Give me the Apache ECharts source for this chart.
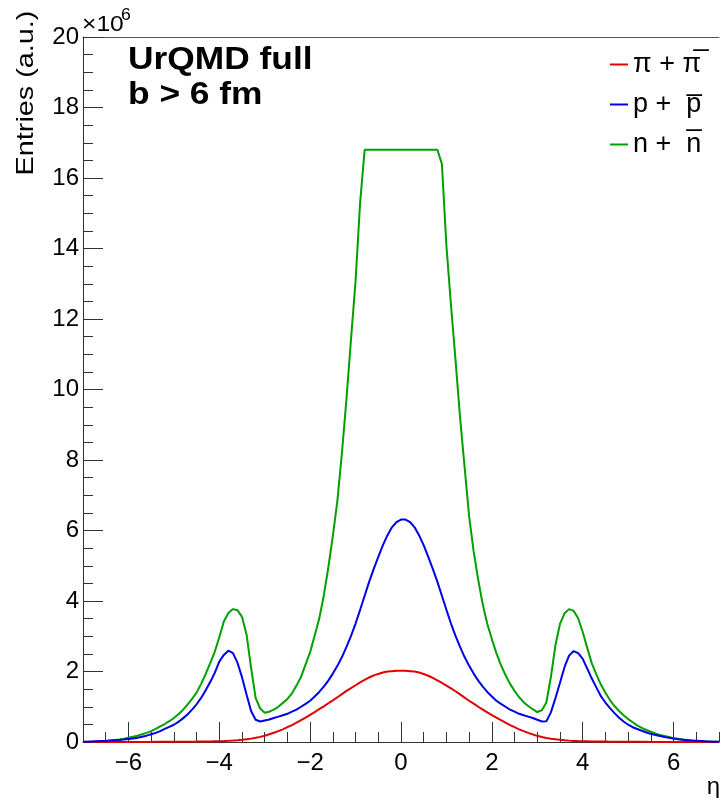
<!DOCTYPE html>
<html>
<head>
<meta charset="utf-8">
<style>
html, body { margin: 0; padding: 0; background: #fff; }
#chart { width: 720px; height: 798px; }
</style>
<script src="https://cdn.jsdelivr.net/npm/echarts@6/dist/echarts.min.js"></script>
</head>
<body>
<div id="chart"></div>
<script>
// bin centres of eta, from -7.0 to 7.0 in steps of 0.1
const eta = Array.from({ length: 141 }, (_, i) => Math.round((-7 + i * 0.1) * 10) / 10);

// values in units of 10^6 entries
const piValues = [
  0, 0, 0, 0, 0, 0, 0.001, 0.001, 0.001, 0.001,
  0.002, 0.002, 0.002, 0.003, 0.003, 0.003, 0.004, 0.004, 0.005, 0.005,
  0.006, 0.007, 0.008, 0.009, 0.010, 0.011, 0.013, 0.015, 0.017, 0.020,
  0.023, 0.027, 0.032, 0.040, 0.050, 0.063, 0.078, 0.096, 0.118, 0.145,
  0.178, 0.218, 0.262, 0.31, 0.36, 0.42, 0.48, 0.55, 0.62, 0.69,
  0.77, 0.85, 0.93, 1.01, 1.10, 1.18, 1.27, 1.36, 1.45, 1.53,
  1.61, 1.69, 1.76, 1.83, 1.89, 1.93, 1.97, 2.00, 2.01, 2.02,
  2.02,
  2.02, 2.01, 2.00, 1.97, 1.93, 1.88, 1.82, 1.75, 1.68, 1.60,
  1.52, 1.44, 1.35, 1.26, 1.17, 1.09, 1.00, 0.92, 0.84, 0.76,
  0.69, 0.62, 0.55, 0.48, 0.42, 0.36, 0.31, 0.26, 0.215, 0.175,
  0.143, 0.116, 0.094, 0.076, 0.061, 0.049, 0.039, 0.031, 0.026, 0.022,
  0.019, 0.016, 0.014, 0.012, 0.011, 0.010, 0.009, 0.008, 0.007, 0.006,
  0.005, 0.005, 0.004, 0.004, 0.003, 0.003, 0.003, 0.002, 0.002, 0.002,
  0.001, 0.001, 0.001, 0.001, 0, 0, 0, 0, 0, 0
];

const protonValues = [
  0.01, 0.01, 0.015, 0.02, 0.025, 0.03, 0.04, 0.05, 0.06, 0.07,
  0.085, 0.10, 0.12, 0.15, 0.18, 0.22, 0.26, 0.31, 0.37, 0.43,
  0.49, 0.57, 0.67, 0.78, 0.92, 1.07, 1.25, 1.47, 1.70, 1.96,
  2.28, 2.47, 2.59, 2.52, 2.25, 1.84, 1.35, 0.88, 0.63, 0.58,
  0.61, 0.64, 0.68, 0.72, 0.76, 0.80, 0.86, 0.92, 1.00, 1.08,
  1.17, 1.29, 1.42, 1.57, 1.74, 1.94, 2.16, 2.41, 2.70, 3.01,
  3.36, 3.75, 4.15, 4.55, 4.91, 5.25, 5.58, 5.86, 6.09, 6.24,
  6.31,
  6.31, 6.24, 6.09, 5.86, 5.58, 5.25, 4.91, 4.55, 4.15, 3.75,
  3.36, 3.01, 2.70, 2.41, 2.16, 1.94, 1.74, 1.57, 1.42, 1.29,
  1.17, 1.08, 1.00, 0.92, 0.86, 0.80, 0.76, 0.72, 0.68, 0.63,
  0.58, 0.59, 0.84, 1.25, 1.68, 2.13, 2.45, 2.58, 2.52, 2.36,
  2.08, 1.80, 1.55, 1.30, 1.12, 0.96, 0.82, 0.69, 0.58, 0.49,
  0.42, 0.37, 0.32, 0.27, 0.23, 0.20, 0.17, 0.14, 0.12, 0.10,
  0.08, 0.065, 0.05, 0.04, 0.035, 0.03, 0.02, 0.015, 0.01, 0.01
];

const neutronValues = [
  0.005, 0.01, 0.01, 0.015, 0.02, 0.03, 0.04, 0.055, 0.07, 0.09,
  0.12, 0.15, 0.18, 0.22, 0.26, 0.31, 0.37, 0.44, 0.51, 0.59,
  0.68, 0.79, 0.91, 1.06, 1.22, 1.40, 1.65, 1.93, 2.24, 2.56,
  2.97, 3.42, 3.66, 3.77, 3.74, 3.55, 3.05, 2.10, 1.25, 0.95,
  0.83, 0.86, 0.92, 1.00, 1.11, 1.22, 1.38, 1.60, 1.85, 2.20,
  2.55, 3.02, 3.50, 4.15, 4.95, 5.85, 6.85, 8.20, 9.74, 11.43,
  13.08, 15.30, 16.80, 16.80, 16.80, 16.80, 16.80, 16.80, 16.80, 16.80,
  16.80,
  16.80, 16.80, 16.80, 16.80, 16.80, 16.80, 16.80, 16.80, 16.40, 14.07,
  12.40, 10.84, 9.21, 7.80, 6.40, 5.40, 4.60, 3.90, 3.35, 2.92,
  2.52, 2.18, 1.90, 1.65, 1.45, 1.27, 1.13, 1.02, 0.93, 0.85,
  0.90, 1.12, 1.85, 2.75, 3.35, 3.65, 3.77, 3.72, 3.51, 3.12,
  2.67, 2.23, 1.92, 1.63, 1.40, 1.19, 1.02, 0.88, 0.76, 0.65,
  0.56, 0.47, 0.40, 0.34, 0.29, 0.24, 0.20, 0.17, 0.14, 0.11,
  0.09, 0.07, 0.055, 0.04, 0.03, 0.02, 0.015, 0.01, 0.01, 0.005
];

const xTickValues = [-6, -4, -2, 0, 2, 4, 6];
const seriesNames = ['π + π\u0305', 'p +  p\u0305', 'n +  n\u0305'];
const seriesColors = ['#e00000', '#0000e6', '#00a000'];

const FONT = '"Liberation Sans", Arial, Helvetica, sans-serif';
const AXIS_COLOR = '#333';

function pairs(values) {
  return eta.map((x, i) => [x, values[i]]);
}
function fmtMinus(v) {
  return v < 0 ? '\u2212' + Math.abs(v) : String(v);
}

const chart = echarts.init(document.getElementById('chart'), null, { renderer: 'canvas' });

chart.setOption({
  animation: false,
  backgroundColor: '#fff',
  grid: { left: 83, right: 1, top: 37, bottom: 56, containLabel: false },
  xAxis: [
    {
      type: 'value', min: -7, max: 7, interval: 0.5, position: 'bottom',
      axisLine: { show: true, onZero: false, lineStyle: { color: AXIS_COLOR, width: 1 } },
      axisTick: { show: true, inside: true, length: 10, lineStyle: { color: AXIS_COLOR, width: 1 } },
      axisLabel: { show: false },
      splitLine: { show: false }
    },
    {
      type: 'value', min: -7, max: 7, position: 'bottom',
      axisLine: { show: false, onZero: false },
      axisTick: { show: true, inside: true, length: 20, customValues: xTickValues, lineStyle: { color: AXIS_COLOR, width: 1 } },
      axisLabel: {
        show: true, customValues: xTickValues, formatter: fmtMinus,
        fontSize: 24, fontFamily: FONT, color: '#000', margin: 9
      },
      splitLine: { show: false }
    },
    {
      type: 'value', min: -7, max: 7, position: 'top',
      axisLine: { show: true, onZero: false, lineStyle: { color: '#555', width: 1 } },
      axisTick: { show: false },
      axisLabel: { show: false },
      splitLine: { show: false }
    }
  ],
  yAxis: {
    type: 'value', min: 0, max: 20, interval: 2,
    axisLine: { show: true, onZero: false, lineStyle: { color: AXIS_COLOR, width: 1 } },
    axisTick: { show: true, inside: true, length: 20, lineStyle: { color: AXIS_COLOR, width: 1 } },
    minorTick: { show: true, splitNumber: 4, length: 10, lineStyle: { color: AXIS_COLOR, width: 1 } },
    axisLabel: { fontSize: 24, fontFamily: FONT, color: '#000', margin: 4 },
    splitLine: { show: false },
    minorSplitLine: { show: false }
  },
  legend: {
    data: seriesNames,
    orient: 'vertical',
    left: 610, top: 51, padding: 0,
    itemWidth: 18, itemHeight: 2, itemGap: 13,
    icon: 'rect',
    textStyle: { fontSize: 27, fontFamily: FONT, color: '#000' }
  },
  series: [
    {
      name: seriesNames[2], type: 'line', xAxisIndex: 0, data: pairs(neutronValues),
      showSymbol: false, symbol: 'none', smooth: false, silent: true,
      lineStyle: { color: seriesColors[2], width: 2 }, itemStyle: { color: seriesColors[2] }
    },
    {
      name: seriesNames[0], type: 'line', xAxisIndex: 0, data: pairs(piValues),
      showSymbol: false, symbol: 'none', smooth: false, silent: true,
      lineStyle: { color: seriesColors[0], width: 2 }, itemStyle: { color: seriesColors[0] }
    },
    {
      name: seriesNames[1], type: 'line', xAxisIndex: 0, data: pairs(protonValues),
      showSymbol: false, symbol: 'none', smooth: false, silent: true,
      lineStyle: { color: seriesColors[1], width: 2 }, itemStyle: { color: seriesColors[1] }
    }
  ],
  graphic: [
    {
      type: 'text', x: 128, y: 60, scaleX: 1.14,
      style: { text: 'UrQMD full', font: 'bold 31px ' + FONT, fill: '#000', align: 'left', verticalAlign: 'middle' }
    },
    {
      type: 'text', x: 128, y: 95, scaleX: 1.14,
      style: { text: 'b > 6 fm', font: 'bold 31px ' + FONT, fill: '#000', align: 'left', verticalAlign: 'middle' }
    },
    {
      type: 'text', x: 26, y: 93, rotation: Math.PI / 2, scaleX: 1.2,
      style: { text: 'Entries (a.u.)', font: '24px ' + FONT, fill: '#000', align: 'center', verticalAlign: 'middle' }
    },
    {
      type: 'text', x: 82, y: 25, scaleX: 1.12,
      style: { text: '×10', font: '22px ' + FONT, fill: '#000', align: 'left', verticalAlign: 'middle' }
    },
    {
      type: 'text', x: 121, y: 16, scaleX: 1.1,
      style: { text: '6', font: '16px ' + FONT, fill: '#000', align: 'left', verticalAlign: 'middle' }
    },
    {
      type: 'text', x: 720, y: 787,
      style: { text: 'η', font: '24px ' + FONT, fill: '#000', align: 'right', verticalAlign: 'middle' }
    }
  ]
});
</script>
</body>
</html>
